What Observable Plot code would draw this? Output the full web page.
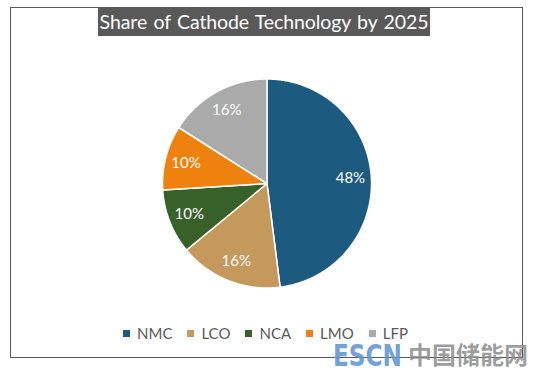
<!DOCTYPE html>
<html><head><meta charset="utf-8">
<script src="https://cdn.jsdelivr.net/npm/d3@7"></script>
<script src="https://cdn.jsdelivr.net/npm/@observablehq/plot@0.6"></script>
<style>
body{margin:0;background:#fff;}
#wrap{position:relative;width:538px;height:374px;overflow:hidden;font-family:Lato,"Open Sans",sans-serif;background:#fff;}
#border{position:absolute;left:10px;top:7px;width:511px;height:349px;border:1px solid #595959;}
#title{position:absolute;left:98px;top:7px;width:332px;height:29px;background:#595959;color:#fff;font-size:19.5px;line-height:29px;text-align:center;white-space:nowrap;word-spacing:1.5px;letter-spacing:-0.1px;}
#chart{position:absolute;left:0;top:0;}
#legend{position:absolute;left:123px;top:327px;display:flex;align-items:center;font-size:15px;line-height:12px;color:#595959;white-space:nowrap;}
.item{display:flex;align-items:center;margin-right:15px;}
.sw{width:7px;height:7px;margin-right:7px;}
#wm{position:absolute;left:0;top:0;}
</style></head>
<body>
<div id="wrap">
  <div id="border"></div>
  <div id="chart"></div>
  <div id="title"></div>
  <div id="legend"></div>
  <svg id="wm" width="538" height="374">
    <text transform="translate(333,366) scale(0.86,1)" font-family="'DejaVu Sans Condensed','DejaVu Sans',sans-serif" font-weight="bold" font-size="30" fill="#5f95d4" fill-opacity="0.9">ESCN</text>
    <text x="408" y="364" font-family="'Noto Sans CJK SC',sans-serif" font-weight="bold" font-size="24" fill="#8c8c8c" fill-opacity="0.85">中国储能网</text>
  </svg>
</div>
<script>
const titleText = "Share of Cathode Technology by 2025";
const categories = ["NMC", "LCO", "NCA", "LMO", "LFP"];
const shares = [48, 16, 10, 10, 16];
const colors = ["#1c5a80", "#c4995b", "#386029", "#ef820f", "#aaaaaa"];

document.getElementById("title").textContent = titleText;

const data = categories.map((name, i) => ({name, value: shares[i]}));
const arcs = d3.pie().sort(null).value(d => d.value)(data);

// polygon points for each slice (unit circle, y up)
const pts = [];
arcs.forEach(a => {
  const n = Math.max(2, Math.ceil((a.endAngle - a.startAngle) / 0.01));
  pts.push({name: a.data.name, x: 0, y: 0});
  for (let k = 0; k <= n; k++) {
    const t = a.startAngle + (a.endAngle - a.startAngle) * k / n;
    pts.push({name: a.data.name, x: Math.sin(t), y: Math.cos(t)});
  }
  pts.push({name: a.data.name, x: 0, y: 0});
});
const labels = arcs.map(a => {
  const m = (a.startAngle + a.endAngle) / 2;
  return {name: a.data.name, x: 0.8 * Math.sin(m), y: 0.8 * Math.cos(m), text: a.data.value + "%"};
});

const chart = Plot.plot({
  width: 538,
  height: 374,
  x: {domain: [-1, 1], range: [162, 371], axis: null},
  y: {domain: [-1, 1], range: [287.5, 78.5], axis: null},
  color: {domain: categories, range: colors},
  style: {fontFamily: "Lato, 'Open Sans', sans-serif", background: "transparent"},
  marks: [
    Plot.line(pts, {x: "x", y: "y", z: "name", fill: "name", stroke: "white", strokeWidth: 1.5, strokeLinejoin: "round", curve: "linear"}),
    Plot.text(labels, {x: "x", y: "y", text: "text", fill: "white", fontSize: 15})
  ]
});
document.getElementById("chart").appendChild(chart);

const leg = document.getElementById("legend");
categories.forEach((c, i) => {
  const it = document.createElement("div");
  it.className = "item";
  const sw = document.createElement("div");
  sw.className = "sw";
  sw.style.background = colors[i];
  const tx = document.createElement("span");
  tx.textContent = c;
  it.appendChild(sw); it.appendChild(tx);
  leg.appendChild(it);
});
</script>
</body></html>
